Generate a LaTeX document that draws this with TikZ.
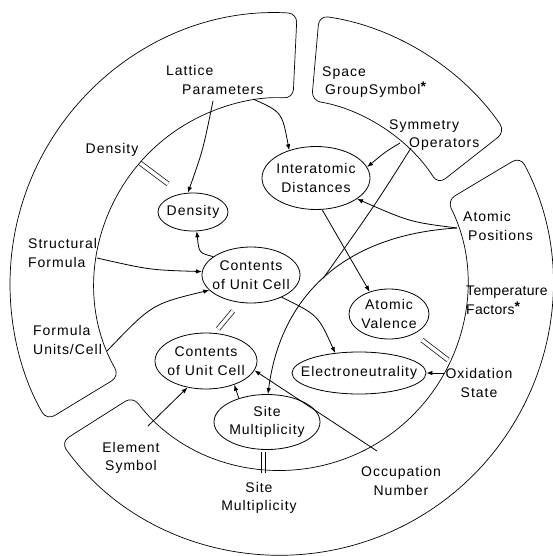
\documentclass[tikz,border=0pt]{standalone}
\usepackage{fontspec}
\setmainfont[LetterSpace=7]{Liberation Sans}
\usetikzlibrary{calc,arrows.meta,shapes.geometric}
\newcommand{\bigstar}{\raisebox{3pt}{\bfseries *}}
\begin{document}
\begin{tikzpicture}[x=1pt,y=1pt,yscale=-1,
  font=\fontsize{14}{18.5}\selectfont,
  region/.style={draw, line width=0.7pt, rounded corners=9pt},
  blob/.style={draw, ellipse, line width=0.8pt, inner sep=0pt},
  arr/.style={line width=0.8pt, -{Latex[length=6pt,width=4.5pt]}},
  conn/.style={line width=0.8pt},
  eqv/.style={double, double distance=3.5pt, line width=0.7pt},
  lbl/.style={inner sep=0pt, align=left}]
\useasboundingbox (0,0) rectangle (552,556);
\coordinate (O) at (281,284);

% equivalence marks (drawn first so arcs pass over)
\coordinate (d1a) at (140,163); \coordinate (d1b) at (168,184);
\coordinate (d2a) at (218,329); \coordinate (d2b) at (233,311);
\coordinate (d3a) at (422,340); \coordinate (d3b) at (448,360);
\coordinate (d4a) at (263.5,452); \coordinate (d4b) at (263.5,473);
\draw[eqv] (d1a) -- (d1b);
\draw[eqv] (d2a) -- (d2b);
\draw[eqv] (d3a) -- (d3b);
\draw[eqv] (d4a) -- (d4b);

% regions
\draw[region] ($(O)+(-86.6:271)$) arc[start angle=-86.6, end angle=-210.2, radius=271]
  -- ($(O)+(-209.7:186)$) arc[start angle=-209.7, end angle=-86.3, radius=186] -- cycle;
\draw[region] ($(O)+(-81.9:271)$) arc[start angle=-81.9, end angle=-34.2, radius=271]
  -- ($(O)+(-32.4:186)$) arc[start angle=-32.4, end angle=-80.5, radius=186] -- cycle;
\draw[region] ($(O)+(-28:271)$) arc[start angle=-28, end angle=144.3, radius=271]
  -- ($(O)+(142.8:186)$) arc[start angle=142.8, end angle=-26.7, radius=186] -- cycle;

% blobs
\node[blob, minimum width=70pt, minimum height=38pt, label={center:Density}] (dens) at (193,212) {};
\node[blob, minimum width=108pt, minimum height=63pt, label={[align=center]center:Interatomic\\Distances}] (inter) at (316,178) {};
\node[blob, minimum width=98pt, minimum height=56pt, label={[align=center]center:Contents\\of Unit Cell}] (cont1) at (251,275) {};
\node[blob, minimum width=80pt, minimum height=50pt, label={[align=center]center:Atomic\\Valence}] (val) at (389,314) {};
\node[blob, minimum width=134pt, minimum height=42pt, label={center:Electroneutrality}] (elec) at (359,373) {};
\node[blob, minimum width=102pt, minimum height=56pt, label={[align=center]center:Contents\\of Unit Cell}] (cont2) at (206,361) {};
\node[blob, minimum width=106pt, minimum height=55pt, label={[align=center]center:Site\\Multiplicity}] (sitem) at (267,422) {};

% outer labels
\node[lbl, anchor=west] (latt) at (166,80) {Lattice\\\hspace*{16pt}Parameters};
\node[lbl] (densl) at (112,150) {Density};
\node[lbl, anchor=west] (sfl) at (28,253) {Structural\\Formula};
\node[lbl, anchor=west] (ful) at (33,340) {Formula\\Units/Cell};
\node[lbl, anchor=west] (sgl) at (322,82) {Space\\\hspace*{3pt}GroupSymbol\bigstar};
\node[lbl, anchor=west] (sol) at (389,135) {Symmetry\\\hspace*{20pt}Operators};
\node[lbl, anchor=west] (apl) at (463,226) {Atomic\\\hspace*{5pt}Positions};
\node[lbl, anchor=west, font=\fontsize{14}{18.5}\selectfont\addfontfeatures{LetterSpace=2}] (tfl) at (466,300) {Temperature\\Factors\bigstar};
\node[lbl, align=center] (oxl) at (479,383) {Oxidation\\State};
\node[lbl, align=center] (occl) at (401,481) {Occupation\\Number};
\node[lbl, align=center] (sml) at (259,498) {Site\\Multiplicity};
\node[lbl, align=center] (esl) at (131,458) {Element\\Symbol};

% connector ends
\coordinate (lp1) at (213,101);
\coordinate (lp2) at (253,99);
\coordinate (so1) at (400,143);
\coordinate (so2) at (411,148);
\coordinate (ap) at (457,228);
\coordinate (sf) at (97,258);
\coordinate (fu) at (107,351);
\coordinate (ox) at (444,373);
\coordinate (oc) at (377,451);
\coordinate (es) at (148,426);

% connectors
\draw[arr] (lp1) .. controls (203,150) .. (dens.105);
\draw[arr] (lp2) .. controls (282,112) .. (inter.134);
\draw[arr] (so1) .. controls (385,152) .. (inter.12);
\draw[arr] (ap) .. controls (410,222) .. (inter.-27);
\draw[arr] (ap) .. controls (340,235) and (280,300) .. (sitem.88) coordinate[pos=0.5] (M);
\draw[conn] (so2) .. controls (375,205) .. (M);
\draw[arr] (inter.-79) -- (val.131);
\draw[arr] (cont1.154) .. controls (199,253) .. (dens.-79);
\draw[arr] (sf) .. controls (150,270) .. (cont1.176);
\draw[arr] (fu) .. controls (152,304) .. (cont1.200);
\draw[arr] (cont1.-36) .. controls (318,315) .. (elec.140);
\draw[arr] (ox) -- (elec.east);
\draw[arr] (oc) -- (cont2.-11);
\draw[arr] (es) -- (cont2.-125);
\draw[arr] (sitem.140) -- (cont2.-40);
\end{tikzpicture}
\end{document}
